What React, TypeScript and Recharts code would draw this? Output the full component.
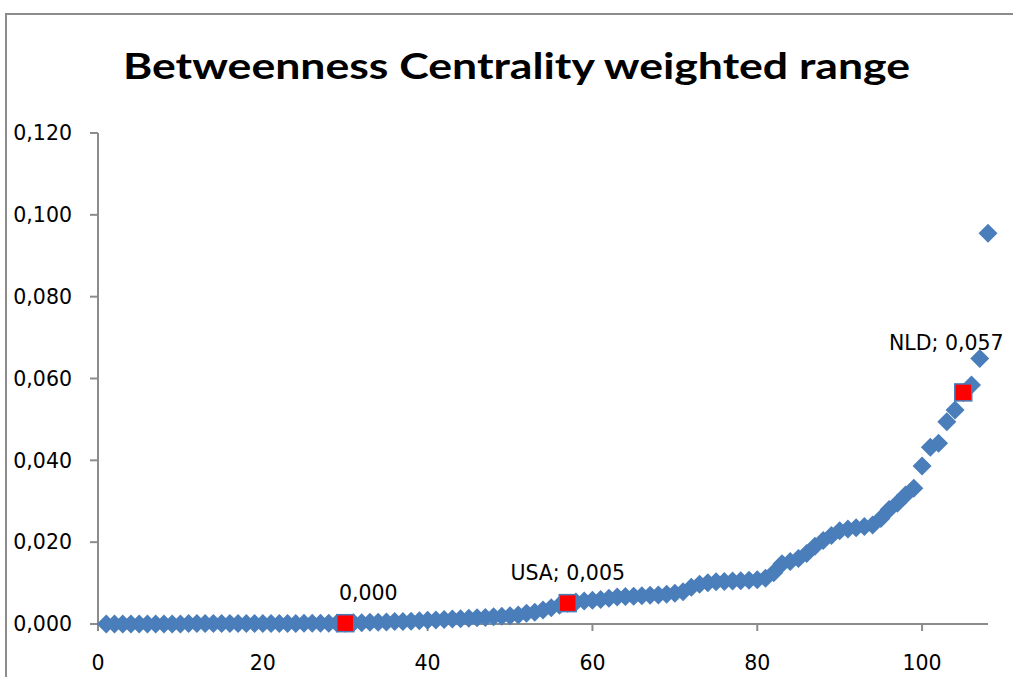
import React from 'react';
import { ScatterChart, Scatter, XAxis, YAxis } from 'recharts';

const TITLE = 'Betweenness Centrality weighted range';

// Betweenness centrality (weighted) per ranked country, rank 1..108
const rankValues: number[] = [
  0.0000, 0.0000, 0.0000, 0.0000, 0.0000, 0.0000, 0.0000, 0.0000, 0.0000, 0.0000,
  0.0001, 0.0001, 0.0001, 0.0001, 0.0001, 0.0001, 0.0001, 0.0001, 0.0001, 0.0001,
  0.0001, 0.0001, 0.0001, 0.0001, 0.0002, 0.0002, 0.0002, 0.0002, 0.0002, 0.0002,
  0.0003, 0.0003, 0.0004, 0.0004, 0.0005, 0.0006, 0.0006, 0.0007, 0.0008, 0.0009,
  0.0010, 0.0011, 0.0012, 0.0013, 0.0014, 0.0015, 0.0016, 0.0018, 0.0019, 0.0020,
  0.0022, 0.0026, 0.0029, 0.0034, 0.0040, 0.0046, 0.0051, 0.0054, 0.0056, 0.0058,
  0.0060, 0.0063, 0.0066, 0.0067, 0.0068, 0.0069, 0.0070, 0.0071, 0.0073, 0.0075,
  0.0079, 0.0090, 0.0097, 0.0101, 0.0103, 0.0104, 0.0105, 0.0106, 0.0107, 0.0108,
  0.0112, 0.0125, 0.0147, 0.0153, 0.0160, 0.0172, 0.0190, 0.0204, 0.0216, 0.0228,
  0.0232, 0.0235, 0.0238, 0.0242, 0.0258, 0.0280, 0.0295, 0.0315, 0.0332, 0.0386,
  0.0432, 0.0442, 0.0494, 0.0523, 0.0566, 0.0584, 0.0649, 0.0955,
];

const highlightRanks: number[] = [30, 57, 105];
const highlightNames: string[] = ['', 'USA', 'NLD'];

const xTicks: number[] = [0, 20, 40, 60, 80, 100];
const yTicks: number[] = [0, 0.02, 0.04, 0.06, 0.08, 0.1, 0.12];

const BLUE = '#4a7ebb';
const AXIS = '#8c8c8c';
const FONT = 'DejaVu Sans';
const FONT_SIZE = 20.5;
const LABEL_OFFSETS = [
  { dx: 23, dy: -30 },
  { dx: 0, dy: -30 },
  { dx: -17, dy: -50 },
];

const fmt = (v: number) => v.toFixed(3).replace('.', ',');

const allPoints = rankValues.map((v, i) => ({ x: i + 1, y: v }));
const highlightPoints = highlightRanks.map((r, i) => ({
  x: r,
  y: rankValues[r - 1],
  name: highlightNames[i],
  idx: i,
}));

const Diamond = (props: any) => {
  const { cx, cy } = props;
  const r = 9.5;
  return (
    <polygon
      points={`${cx},${cy - r} ${cx + r},${cy} ${cx},${cy + r} ${cx - r},${cy}`}
      fill={BLUE}
    />
  );
};

const RedSquare = (props: any) => {
  const { cx, cy, payload } = props;
  const s = 17;
  const off = LABEL_OFFSETS[payload.idx];
  const label = payload.name ? `${payload.name}; ${fmt(payload.y)}` : fmt(payload.y);
  return (
    <g>
      <rect x={cx - s / 2} y={cy - s / 2} width={s} height={s} fill="#ff0000" stroke={BLUE} strokeWidth={1.5} />
      <text
        x={cx + off.dx}
        y={cy + off.dy}
        dy="0.35em"
        textAnchor="middle"
        fontFamily={FONT}
        fontSize={FONT_SIZE}
        fill="#000"
      >
        {label}
      </text>
    </g>
  );
};

export default function App() {
  return (
    <div
      style={{
        position: 'fixed',
        left: 0,
        top: 0,
        width: 1013,
        height: 677,
        overflow: 'hidden',
        background: '#fff',
      }}
    >
      <div
        style={{
          position: 'absolute',
          left: 5,
          top: 13,
          width: 1100,
          height: 800,
          borderLeft: `2px solid ${AXIS}`,
          borderTop: `2px solid ${AXIS}`,
        }}
      />
      <svg style={{ position: 'absolute', left: 0, top: 0 }} width={1013} height={110}>
        <text
          x={516.5}
          y={79}
          textAnchor="middle"
          fontFamily="Lato"
          fontWeight={700}
          fontSize={37}
          textLength={787}
          lengthAdjust="spacingAndGlyphs"
          fill="#000"
        >
          {TITLE}
        </text>
      </svg>
      <div style={{ position: 'absolute', left: 0, top: 0 }}>
        <ScatterChart width={1013} height={677} margin={{ top: 133, right: 25, bottom: 0, left: 8 }}>
          <XAxis
            type="number"
            dataKey="x"
            domain={[0, 108]}
            ticks={xTicks}
            interval={0}
            height={53}
            tickSize={7}
            tickMargin={24}
            axisLine={{ stroke: AXIS, strokeWidth: 2 }}
            tickLine={{ stroke: AXIS, strokeWidth: 2 }}
            tick={{ fill: '#000', fontFamily: FONT, fontSize: FONT_SIZE }}
          />
          <YAxis
            type="number"
            dataKey="y"
            domain={[0, 0.12]}
            ticks={yTicks}
            interval={0}
            width={90}
            tickSize={8}
            tickMargin={18}
            tickFormatter={fmt}
            axisLine={{ stroke: AXIS, strokeWidth: 2 }}
            tickLine={{ stroke: AXIS, strokeWidth: 2 }}
            tick={{ fill: '#000', fontFamily: FONT, fontSize: FONT_SIZE }}
          />
          <Scatter data={allPoints} shape={Diamond} isAnimationActive={false} />
          <Scatter data={highlightPoints} shape={RedSquare} isAnimationActive={false} />
        </ScatterChart>
      </div>
    </div>
  );
}
